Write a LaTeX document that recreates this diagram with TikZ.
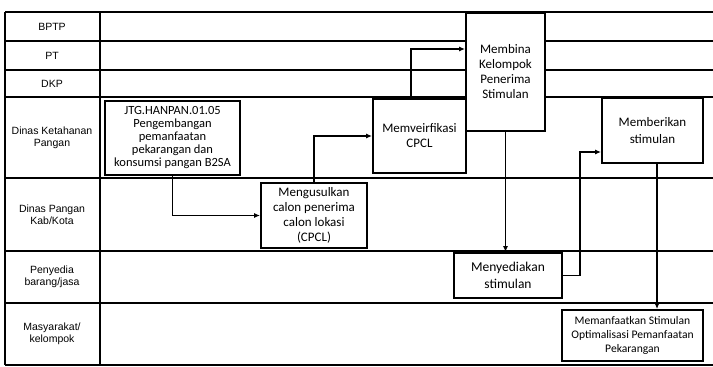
\documentclass[tikz,border=0pt]{standalone}
\usepackage{fontspec}
\setmainfont{Carlito}
\newfontfamily\lanefont{Liberation Sans}
\usepackage{tikz}
\usetikzlibrary{calc,arrows.meta}

\tikzset{
  lane/.style={font=\lanefont\fontsize{10.5}{12}\selectfont,align=center},
  proc/.style={draw,fill=white,line width=1.8pt,align=center,inner sep=0pt,
    font=\fontsize{13}{15}\selectfont},
}

\begin{document}
\begin{tikzpicture}[x=1pt,y=-1pt,>={Latex[length=6pt,width=5pt]},line width=1.3pt]
\useasboundingbox (0,0) rectangle (713,367);
% swimlanes
\draw (5,12) -- (5,365);
\draw (100,12) -- (100,365);
\foreach \y in {12,41,70,97,178,251,303,365}
\draw (5,\y) -- (713,\y);
\node[lane] (l1) at (52,26.5) {BPTP};
\node[lane] (l2) at (52,55.5) {PT};
\node[lane] (l3) at (52,83.5) {DKP};
\node[lane] (l4) at (52,137.5) {Dinas Ketahanan\\Pangan};
\node[lane] (l5) at (52,214.5) {Dinas Pangan\\Kab/Kota};
\node[lane] (l6) at (52,277) {Penyedia\\barang/jasa};
\node[lane] (l7) at (52,334) {Masyarakat/\\kelompok};
% steps
\node[proc,minimum width=135pt,minimum height=74pt,
  font=\fontsize{12.5}{13}\selectfont] (jtg) at (172.5,138)
  {JTG.HANPAN.01.05\\Pengembangan\\pemanfaatan\\pekarangan dan\\konsumsi pangan B2SA};
\node[proc,minimum width=106pt,minimum height=65pt] (usul) at (314,215.5)
  {Mengusulkan\\calon penerima\\calon lokasi\\(CPCL)};
\node[proc,minimum width=93pt,minimum height=74pt] (verif) at (419.5,136)
  {Memveirfikasi\\CPCL};
\node[proc,minimum width=79pt,minimum height=118pt] (bina) at (505.5,72)
  {Membina\\Kelompok\\Penerima\\Stimulan};
\node[proc,minimum width=101pt,minimum height=65pt,
  font=\fontsize{13}{16.5}\selectfont] (beri) at (652.5,130.5)
  {Memberikan\\stimulan};
\node[proc,minimum width=108pt,minimum height=45pt,
  font=\fontsize{13.5}{16.5}\selectfont] (sedia) at (508,275.5)
  {Menyediakan\\stimulan};
\node[proc,minimum width=141pt,minimum height=51pt,
  font=\fontsize{11.6}{14}\selectfont] (manfaat) at (632.5,335.5)
  {Memanfaatkan Stimulan\\Optimalisasi Pemanfaatan\\Pekarangan};
% flow
\draw[->] (jtg.south) |- (usul.west);
\draw[->] (usul.north) |- (verif.west);
\draw[->] ([xshift=-8.5pt]verif.north) |- ([yshift=23pt]bina.west);
\draw[->] (bina.south) -- (bina.south |- sedia.north);
\draw[->] (sedia.east) -- ++(17,0) |- ([yshift=-21.5pt]beri.west);
\draw[->] ([xshift=4.5pt]beri.south) -- ([xshift=4.5pt]beri.south |- manfaat.north);
\end{tikzpicture}
\end{document}
